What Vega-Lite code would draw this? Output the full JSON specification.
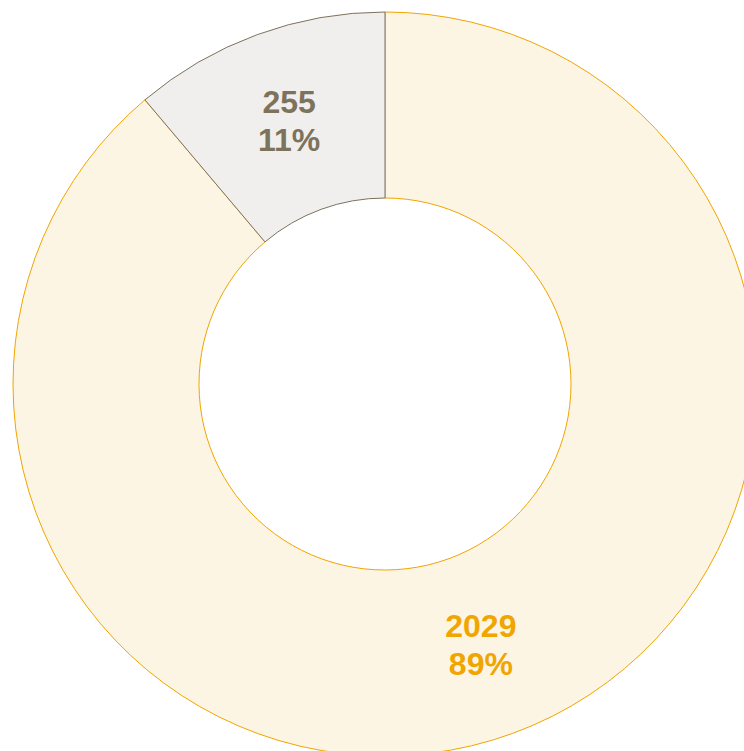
{
  "$schema": "https://vega.github.io/schema/vega-lite/v6.json",
  "width": 770,
  "height": 768,
  "autosize": {"type": "none"},
  "padding": 0,
  "background": "white",
  "data": {
    "values": [
      {"cat": "A", "value": 2029, "pct": "89%", "ord": 1},
      {"cat": "B", "value": 255, "pct": "11%", "ord": 2}
    ]
  },
  "transform": [
    {"calculate": "datum.value + '\\n' + datum.pct", "as": "label"}
  ],
  "encoding": {
    "theta": {"field": "value", "type": "quantitative", "stack": true},
    "order": {"field": "ord", "type": "quantitative"}
  },
  "layer": [
    {
      "mark": {"type": "arc", "outerRadius": 372, "innerRadius": 186, "strokeWidth": 1},
      "encoding": {
        "fill": {"field": "cat", "type": "nominal", "scale": {"domain": ["A", "B"], "range": ["#FDF5E4", "#F0EFED"]}, "legend": null},
        "stroke": {"field": "cat", "type": "nominal", "scale": {"domain": ["A", "B"], "range": ["#F0A500", "#7D735C"]}, "legend": null}
      }
    },
    {
      "mark": {"type": "text", "radius": 279, "dy": -19, "fontSize": 32, "fontWeight": "bold", "font": "Liberation Sans", "lineBreak": "\n", "lineHeight": 38, "align": "center", "baseline": "middle"},
      "encoding": {
        "text": {"field": "label", "type": "nominal"},
        "color": {"field": "cat", "type": "nominal", "scale": {"domain": ["A", "B"], "range": ["#F0A500", "#7D735C"]}, "legend": null}
      }
    }
  ]
}
